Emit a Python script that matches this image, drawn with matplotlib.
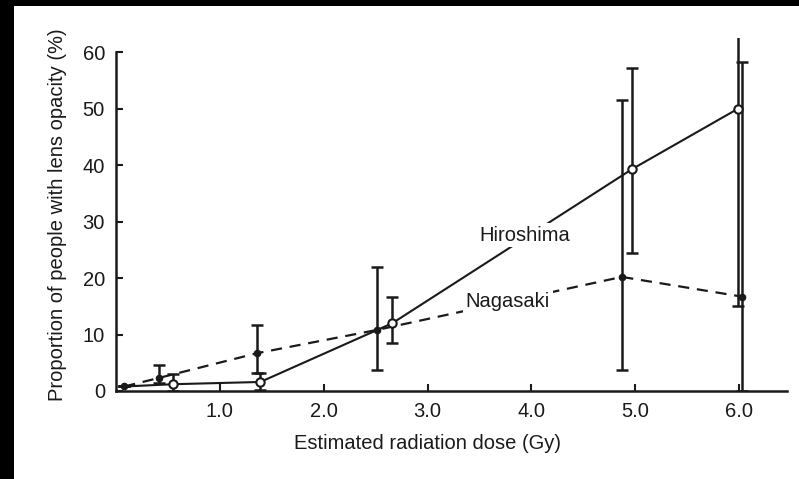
import matplotlib
matplotlib.use("Agg")
import matplotlib.pyplot as plt
from matplotlib.patches import Rectangle
import numpy as np

plt.rcParams['font.family'] = ['Liberation Sans', 'DejaVu Sans']

# Data
hiro_x = [0.08, 0.55, 1.39, 2.66, 4.97, 5.99]
hiro_y = [0.8, 1.2, 1.6, 12.0, 39.3, 50.0]
hiro_lo = [0.8, 0.0, 0.2, 8.5, 24.4, 15.0]
hiro_hi = [0.8, 3.0, 3.1, 16.7, 57.2, 64.0]

naga_x = [0.08, 0.41, 1.36, 2.51, 4.87, 6.03]
naga_y = [0.8, 2.3, 6.7, 10.8, 20.2, 16.7]
naga_lo = [0.8, 1.5, 3.1, 3.8, 3.7, 0.0]
naga_hi = [0.8, 4.6, 11.7, 22.0, 51.6, 58.2]

x_ticks = [1.0, 2.0, 3.0, 4.0, 5.0, 6.0]
x_ticklabels = ["1.0", "2.0", "3.0", "4.0", "5.0", "6.0"]
y_ticks = [0, 10, 20, 30, 40, 50, 60]

fig = plt.figure(figsize=(7.99, 4.79), dpi=100)
W, H = 799, 479
ax = fig.add_axes([116 / W, (H - 391) / H, 671 / W, 353 / H])

ink = "#1a1a1a"

def err(y, lo, hi):
    y = np.array(y); lo = np.array(lo); hi = np.array(hi)
    return np.vstack([y - lo, hi - y])

# Hiroshima
ax.errorbar(hiro_x, hiro_y, yerr=err(hiro_y, hiro_lo, hiro_hi), fmt='none',
            ecolor=ink, elinewidth=1.8, capsize=4.5, capthick=1.8, zorder=2)
ax.plot(hiro_x, hiro_y, '-', color=ink, lw=1.5, zorder=3)
ax.plot(hiro_x[1:], hiro_y[1:], 'o', mfc='white', mec=ink, mew=1.5, ms=6, zorder=5)

# Nagasaki
ax.errorbar(naga_x, naga_y, yerr=err(naga_y, naga_lo, naga_hi), fmt='none',
            ecolor=ink, elinewidth=1.8, capsize=4.5, capthick=1.8, zorder=2)
ax.plot(naga_x, naga_y, '--', color=ink, lw=1.6, dashes=(5, 3.5), zorder=3)
ax.plot(naga_x, naga_y, 'o', mfc=ink, mec=ink, ms=4.5, zorder=5)

ax.text(3.94, 27.6, "Hiroshima", fontsize=14.5, color=ink, ha='center', va='center',
        bbox=dict(facecolor='white', edgecolor='none', pad=2), zorder=4)
ax.text(3.77, 15.8, "Nagasaki", fontsize=14.5, color=ink, ha='center', va='center',
        bbox=dict(facecolor='white', edgecolor='none', pad=2), zorder=4)

ax.set_xlim(0, 6.46)
ax.set_ylim(0, 62.5)
ax.spines['top'].set_visible(False)
ax.spines['right'].set_visible(False)
ax.spines['left'].set_bounds(0, 60)
for s in ['left', 'bottom']:
    ax.spines[s].set_linewidth(1.8)
    ax.spines[s].set_color(ink)

ax.set_xticks(x_ticks)
ax.set_xticklabels(x_ticklabels)
ax.set_yticks(y_ticks)
ax.tick_params(direction='in', length=5, width=1.5, color=ink, labelsize=14.5,
               labelcolor=ink, pad=8)

ax.set_xlabel("Estimated radiation dose (Gy)", fontsize=14.5, color=ink)
ax.xaxis.set_label_coords(0.4635, -0.1225)
ax.set_ylabel("Proportion of people with lens opacity (%)", fontsize=14.5, color=ink, labelpad=11)

# black border strips at top and left of the reference image
fig.patches.append(Rectangle((0, 1 - 6 / H), 1, 6 / H, transform=fig.transFigure,
                             facecolor='black', edgecolor='none', zorder=10))
fig.patches.append(Rectangle((0, 0), 14 / W, 1, transform=fig.transFigure,
                             facecolor='black', edgecolor='none', zorder=10))

fig.savefig("out.png", dpi=100)
